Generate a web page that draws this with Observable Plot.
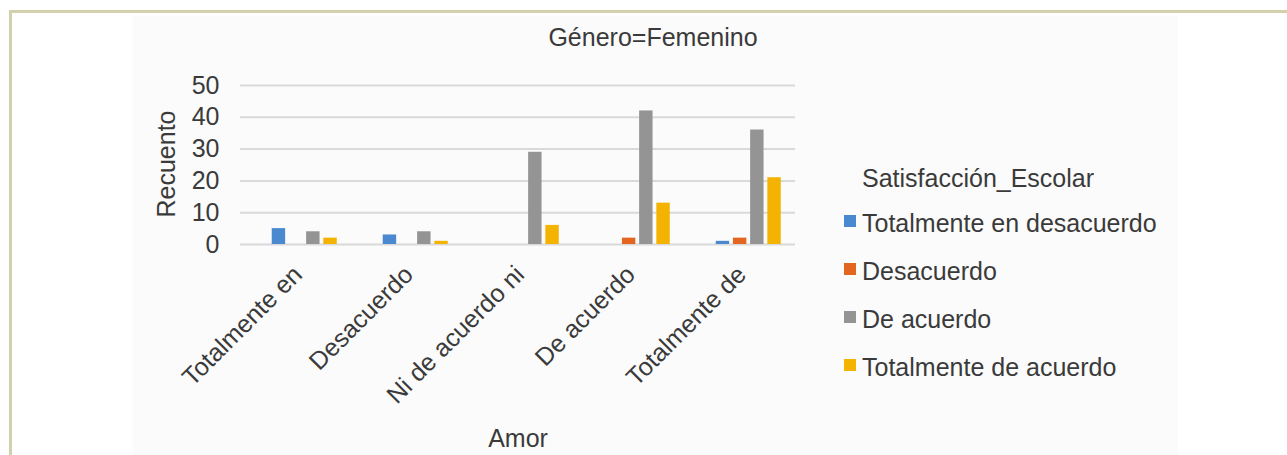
<!DOCTYPE html>
<html>
<head>
<meta charset="utf-8">
<script src="https://cdn.jsdelivr.net/npm/d3@7"></script>
<script src="https://cdn.jsdelivr.net/npm/@observablehq/plot@0.6"></script>
<style>
  html, body { margin: 0; padding: 0; background: #ffffff; }
  body { width: 1287px; height: 455px; overflow: hidden; font-family: "Liberation Sans", Arial, sans-serif; color: #3a3a3a; }
  #wrap { position: relative; width: 1287px; height: 455px; }
  #frame { position: absolute; left: 9px; top: 10px; width: 1300px; height: 460px; border-top: 3px solid #d2d0ad; border-left: 3px solid #d2d0ad; }
  #panel { position: absolute; left: 133px; top: 16px; width: 1045px; height: 440px; background: #fbfbfb; }
  #chart { position: absolute; left: 0; top: 0; }
  .txt { position: absolute; white-space: nowrap; font-size: 25px; line-height: 1; color: #3a3a3a; }
  .sw { position: absolute; width: 12px; height: 12px; }
</style>
</head>
<body>
<div id="wrap">
  <div id="frame"></div>
  <div id="panel"></div>
  <div id="chart"></div>
  <div id="title" class="txt" style="left:0; width:1306px; top:25px; text-align:center;"></div>
  <div id="ylabel" class="txt" style="left:166px; top:164px; transform: translate(-50%,-50%) rotate(-90deg);"></div>
  <div id="xlabel" class="txt" style="left:518px; top:426px; transform: translateX(-50%);"></div>
  <div id="legend"></div>
</div>
<script>
// ---- data ----
const titleText = "Género=Femenino";
const yTitle = "Recuento";
const xTitle = "Amor";
const legendTitle = "Satisfacción_Escolar";
const groups = ["Totalmente en desacuerdo", "Desacuerdo", "Ni de acuerdo ni en desacuerdo", "De acuerdo", "Totalmente de acuerdo"];
const tickLabels = ["Totalmente en", "Desacuerdo", "Ni de acuerdo ni", "De acuerdo", "Totalmente de"];
const series = ["Totalmente en desacuerdo", "Desacuerdo", "De acuerdo", "Totalmente de acuerdo"];
const totEnDesacuerdo = [5, 3, 0, 0, 1];
const desacuerdo = [0, 0, 0, 2, 2];
const deAcuerdo = [4, 4, 29, 42, 36];
const totDeAcuerdo = [2, 1, 6, 13, 21];
const colors = ["#4a89d0", "#e2661f", "#949494", "#f4b300"];
const yTicks = [0, 10, 20, 30, 40, 50];

const seriesValues = [totEnDesacuerdo, desacuerdo, deAcuerdo, totDeAcuerdo];
const rows = [];
groups.forEach((g, i) => {
  series.forEach((s, j) => {
    const v = seriesValues[j][i];
    if (v > 0) rows.push({group: g, series: s, value: v});
  });
});

const chart = Plot.plot({
  width: 1287,
  height: 455,
  marginLeft: 238,
  marginRight: 490,
  marginTop: 85,
  marginBottom: 211,
  style: {background: "transparent", fontFamily: "'Liberation Sans', Arial, sans-serif", fontSize: "25px", color: "#3a3a3a", overflow: "visible"},
  fx: {domain: groups, padding: 0, label: null},
  x: {domain: series, paddingInner: 0.22, paddingOuter: 1.336, align: 0.69, round: false, axis: null},
  y: {domain: [0, 50], label: null},
  color: {domain: series, range: colors},
  marks: [
    Plot.gridY(yTicks, {stroke: "#d9d9d9", strokeOpacity: 1, strokeWidth: 2}),
    Plot.axisY(yTicks, {tickSize: 0, tickPadding: 21, fontSize: 25, label: null}),
    Plot.axisFx({anchor: "bottom", tickRotate: -45, tickSize: 0, tickPadding: 26, dx: 2, fontSize: 25, label: null,
      tickFormat: d => tickLabels[groups.indexOf(d)]}),
    Plot.barY(rows, {fx: "group", x: "series", y: "value", fill: "series"})
  ]
});
document.getElementById("chart").appendChild(chart);

document.getElementById("title").textContent = titleText;
document.getElementById("ylabel").textContent = yTitle;
document.getElementById("xlabel").textContent = xTitle;

const legend = document.getElementById("legend");
const lt = document.createElement("div");
lt.className = "txt";
lt.style.left = "862px";
lt.style.top = "166px";
lt.textContent = legendTitle;
legend.appendChild(lt);
series.forEach((s, j) => {
  const cy = 221 + j * 48;
  const sw = document.createElement("div");
  sw.className = "sw";
  sw.style.left = "844px";
  sw.style.top = (cy - 6) + "px";
  sw.style.background = colors[j];
  legend.appendChild(sw);
  const t = document.createElement("div");
  t.className = "txt";
  t.style.left = "862px";
  t.style.top = (cy - 10) + "px";
  t.textContent = s;
  legend.appendChild(t);
});
</script>
</body>
</html>
